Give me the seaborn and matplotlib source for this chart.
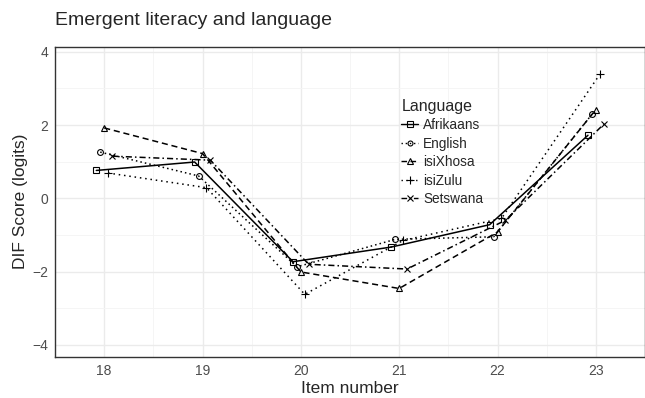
import numpy as np
import pandas as pd
import matplotlib
matplotlib.use('Agg')
import matplotlib.pyplot as plt
import seaborn as sns
from matplotlib.lines import Line2D

# values (DIF score, logits)
items = [18, 19, 20, 21, 22, 23]
languages = ['Afrikaans', 'English', 'isiXhosa', 'isiZulu', 'Setswana']
afrikaans = [0.76, 0.99, -1.73, -1.33, -0.72, 1.72]
english = [1.26, 0.61, -1.87, -1.12, -1.05, 2.29]
isixhosa = [1.92, 1.22, -2.01, -2.46, -0.92, 2.42]
isizulu = [0.69, 0.29, -2.62, -1.15, -0.55, 3.38]
setswana = [1.15, 1.04, -1.80, -1.93, -0.60, 2.02]

scores = [afrikaans, english, isixhosa, isizulu, setswana]

rows = []
for i, (lang, vals) in enumerate(zip(languages, scores)):
    shift = (i - 2) * 0.04  # position dodge like ggplot
    for it, v in zip(items, vals):
        rows.append({'Language': lang, 'Item': it, 'x': it + shift, 'Score': v})
df = pd.DataFrame(rows)

sns.set_style('white')
plt.rcParams['font.family'] = ['Liberation Sans', 'DejaVu Sans']

markers = {'Afrikaans': 's', 'English': 'o', 'isiXhosa': '^', 'isiZulu': '+', 'Setswana': 'x'}
dashes = {'Afrikaans': None, 'English': (1, 2), 'isiXhosa': (4, 2.5),
          'isiZulu': (1, 2.5), 'Setswana': (4, 2, 1, 2)}
msizes = {'Afrikaans': 4.5, 'English': 4.2, 'isiXhosa': 5, 'isiZulu': 6, 'Setswana': 5}

fig = plt.figure(figsize=(6.45, 3.98), dpi=100)
ax = fig.add_axes([0.0853, 0.103, 1 - 0.0853, 0.780])

for lang in languages:
    sub = df[df['Language'] == lang]
    sns.lineplot(data=sub, x='x', y='Score', color='black', linewidth=1.1,
                 marker=markers[lang], markersize=msizes[lang],
                 markerfacecolor='none', markeredgecolor='black',
                 markeredgewidth=0.8, ax=ax)
    line = ax.get_lines()[-1]
    if dashes[lang] is not None:
        line.set_dashes(dashes[lang])

ax.set_xlim(17.66, 23.34)
ax.set_ylim(-4.33, 4.14)
ax.set_xticks(items)
ax.set_yticks([-4, -2, 0, 2, 4])
ax.set_xticks(np.arange(17.5, 23.6, 1), minor=True)
ax.set_yticks([-3, -1, 1, 3], minor=True)
ax.grid(which='major', color='#EBEBEB', linewidth=1.0)
ax.grid(which='minor', color='#F4F4F4', linewidth=0.6)
ax.set_axisbelow(True)
ax.tick_params(which='major', length=3, width=0.8, color='#333333',
               labelcolor='#4D4D4D', labelsize=10, pad=2)
ax.tick_params(which='minor', length=0)
for s in ax.spines.values():
    s.set_color('#333333')
    s.set_linewidth(1.0)

ax.set_xlabel('Item number', fontsize=12.5, labelpad=2)
ax.set_ylabel('DIF Score (logits)', fontsize=12.5, labelpad=3)
fig.text(0.0853, 0.948, 'Emergent literacy and language', fontsize=14,
         ha='left', va='center')

handles = []
for l in languages:
    h = Line2D([], [], color='black', marker=markers[l],
               markerfacecolor='none', markeredgecolor='black', markeredgewidth=0.8,
               markersize=msizes[l] * 0.85, linewidth=1.0)
    if dashes[l] is not None:
        h.set_dashes(dashes[l])
    handles.append(h)
leg = ax.legend(handles, languages, title='Language', frameon=False,
                loc='upper left', bbox_to_anchor=(0.578, 0.85),
                fontsize=9.8, title_fontsize=11.5, handlelength=1.2,
                handletextpad=0.4, labelspacing=0.33, borderaxespad=0)
leg._legend_box.align = 'left'

fig.savefig('out.png', dpi=100)
